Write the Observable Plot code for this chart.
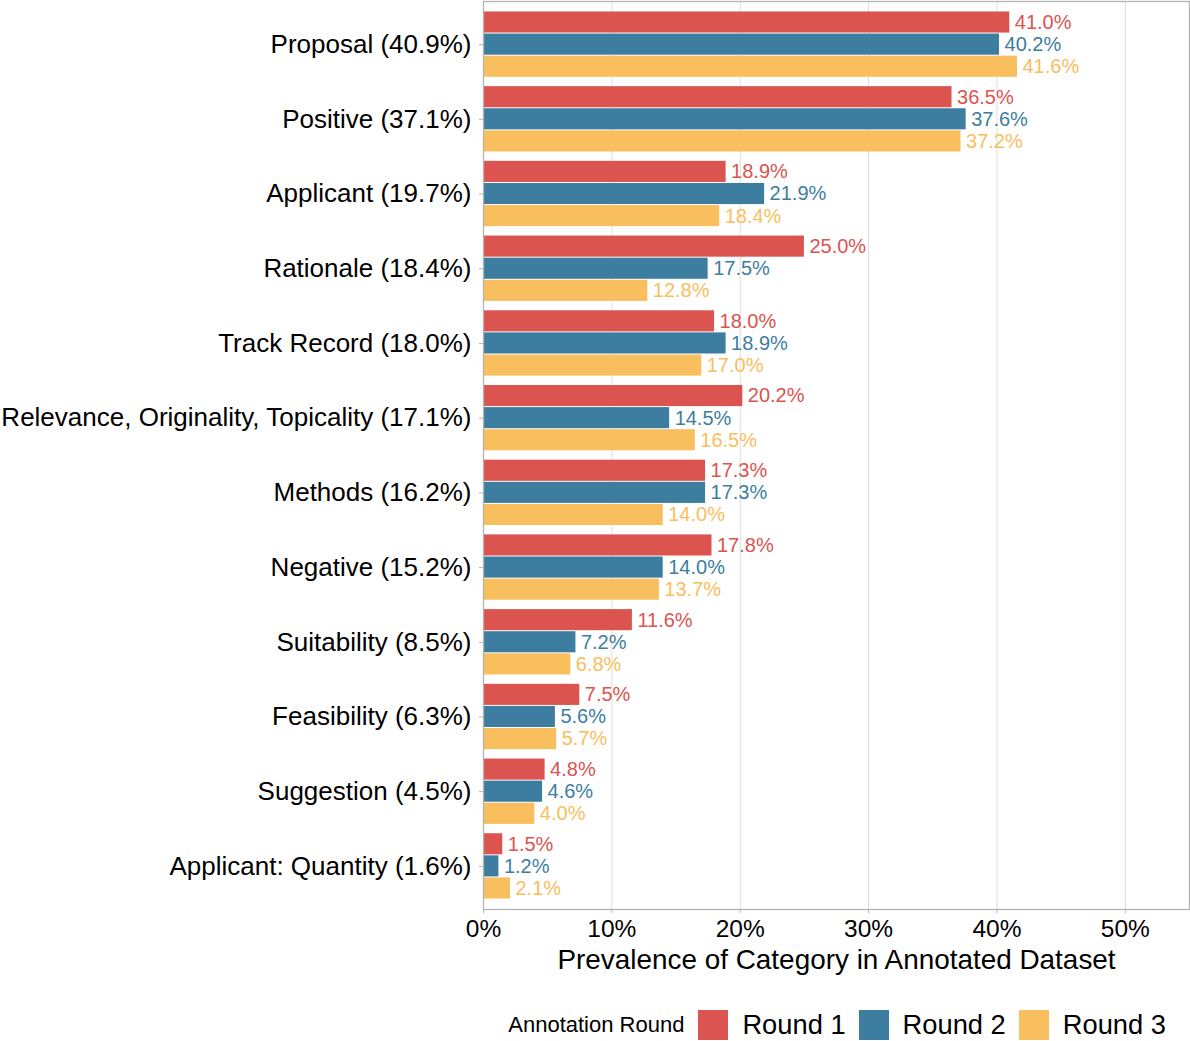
<!DOCTYPE html>
<html>
<head>
<meta charset="utf-8">
<script src="https://cdn.jsdelivr.net/npm/d3@7"></script>
<script src="https://cdn.jsdelivr.net/npm/@observablehq/plot@0.6"></script>
<style>
  html, body { margin: 0; padding: 0; background: #fff; }
  body { font-family: "Liberation Sans", Arial, Helvetica, sans-serif; width: 1190px; }
  #legend { display: flex; justify-content: flex-end; align-items: center; padding-top: 20px; padding-right: 24px; height: 30px; color: #000; }
  #legend .title { font-size: 22px; margin-right: 14px; }
  #legend .key { width: 30px; height: 30px; margin-right: 14px; }
  #legend .lab { font-size: 27.3px; margin-right: 13px; }
  #legend .lab:last-child { margin-right: 0; }
</style>
</head>
<body>
<div id="chart"></div>
<div id="legend"></div>
<script>
const categories = [
  "Proposal (40.9%)",
  "Positive (37.1%)",
  "Applicant (19.7%)",
  "Rationale (18.4%)",
  "Track Record (18.0%)",
  "Relevance, Originality, Topicality (17.1%)",
  "Methods (16.2%)",
  "Negative (15.2%)",
  "Suitability (8.5%)",
  "Feasibility (6.3%)",
  "Suggestion (4.5%)",
  "Applicant: Quantity (1.6%)"
];
const round1 = [41.0, 36.5, 18.9, 25.0, 18.0, 20.2, 17.3, 17.8, 11.6, 7.5, 4.8, 1.5];
const round2 = [40.2, 37.6, 21.9, 17.5, 18.9, 14.5, 17.3, 14.0, 7.2, 5.6, 4.6, 1.2];
const round3 = [41.6, 37.2, 18.4, 12.8, 17.0, 16.5, 14.0, 13.7, 6.8, 5.7, 4.0, 2.1];
const rounds = ["Round 1", "Round 2", "Round 3"];
const roundColors = ["#db5450", "#3d7ea0", "#f9be5e"];
const xTicks = [0, 10, 20, 30, 40, 50];
const xTitle = "Prevalence of Category in Annotated Dataset";
const legendTitle = "Annotation Round";

const series = [round1, round2, round3];
const data = [];
categories.forEach((c, i) => {
  series.forEach((vals, j) => {
    data.push({cat: c, ci: i, ri: j, round: rounds[j], value: vals[i]});
  });
});

const slot = 0.296; // fraction of a category step per bar
const yTop = d => d.ci - 1.5 * slot + d.ri * slot;

const chart = Plot.plot({
  width: 1190,
  height: 990,
  marginLeft: 483,
  marginRight: 1,
  marginTop: 1,
  marginBottom: 81,
  style: {fontFamily: '"Liberation Sans", Arial, Helvetica, sans-serif', background: "#fff", overflow: "visible"},
  x: {domain: [0, 55], axis: null},
  y: {domain: [-0.577, 11.577], reverse: true, axis: null},
  color: {domain: rounds, range: roundColors},
  marks: [
    Plot.gridX(xTicks, {stroke: "#dedede", strokeOpacity: 1, strokeWidth: 1}),
    Plot.rectX(data, {
      x1: 0,
      x2: "value",
      y1: yTop,
      y2: d => yTop(d) + slot,
      fill: "round",
      insetTop: 0.5,
      insetBottom: 0.5
    }),
    Plot.text(data, {
      x: "value",
      y: d => yTop(d) + slot / 2,
      text: d => d.value.toFixed(1) + "%",
      fill: "round",
      textAnchor: "start",
      dx: 5,
      fontSize: 20
    }),
    Plot.frame({stroke: "#b3b3b3", strokeWidth: 1.3}),
    Plot.axisX({
      ticks: xTicks,
      tickFormat: d => d + "%",
      tickSize: 4,
      tickPadding: 6,
      fontSize: 24.5,
      stroke: "#b3b3b3",
      fill: "#000",
      label: null
    }),
    Plot.axisY({
      ticks: d3.range(categories.length),
      tickFormat: i => categories[i],
      tickSize: 4,
      tickPadding: 8,
      fontSize: 26,
      stroke: "#b3b3b3",
      fill: "#000",
      label: null
    }),
    Plot.text([xTitle], {
      frameAnchor: "bottom",
      text: d => d,
      dy: 59,
      fontSize: 27.9,
      fill: "#000"
    })
  ]
});
document.getElementById("chart").appendChild(chart);

const legend = document.getElementById("legend");
const t = document.createElement("span");
t.className = "title";
t.textContent = legendTitle;
legend.appendChild(t);
rounds.forEach((r, j) => {
  const k = document.createElement("span");
  k.className = "key";
  k.style.background = roundColors[j];
  legend.appendChild(k);
  const l = document.createElement("span");
  l.className = "lab";
  l.textContent = r;
  legend.appendChild(l);
});
</script>
</body>
</html>
